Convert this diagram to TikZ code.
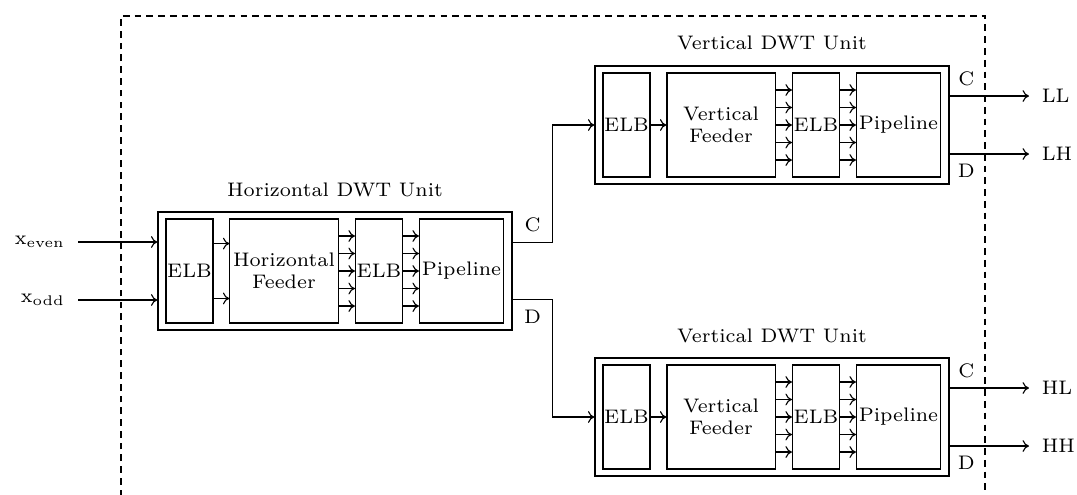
\documentclass[tikz,border=0pt]{standalone}
\usepackage{tikz}
\usetikzlibrary{arrows.meta}

\begin{document}
\begin{tikzpicture}[x=0.357pt,y=0.357pt,yscale=-1,xscale=1,
  font=\scriptsize, >={To[length=2.3pt,width=4.2pt]},
  blk/.style={draw, rectangle, minimum height=37.1pt, inner sep=0pt, align=center},
  unitbox/.style={draw, rectangle, minimum width=126.4pt, minimum height=42.1pt, inner sep=0pt},
  lbl/.style={inner sep=0pt, outer sep=4.6pt},
  frame/.style={dash pattern=on 2.4pt off 1.8pt}]
\useasboundingbox (0,0) rectangle (1077,494);

%Dashed frame
\draw[frame] (121,520) -- (121,16) -- (985,16) -- (985,520);

%Horizontal DWT unit
\node[unitbox] (hunit) at (335,271) {};
\node[blk, minimum width=16.8pt] (helb) at (189.5,271) {ELB};
\node[blk, minimum width=38.6pt] (hfeed) at (284,271) {Horizontal\\Feeder};
\node[blk, minimum width=16.8pt] (helbb) at (379,271) {ELB};
\node[blk, minimum width=30pt] (hpipe) at (461.5,271) {Pipeline};
\node (htitle) at (335,190) {Horizontal DWT Unit};
\foreach \d in {9.8,-9.8} \draw[->] ([yshift=\d pt]helb.east) -- ([yshift=\d pt]hfeed.west);
\foreach \d in {12.5,6.25,0,-6.25,-12.5} {
  \draw[->] ([yshift=\d pt]hfeed.east) -- ([yshift=\d pt]helbb.west);
  \draw[->] ([yshift=\d pt]helbb.east) -- ([yshift=\d pt]hpipe.west);
}

%Vertical DWT unit (top)
\node[unitbox] (vaunit) at (772,125) {};
\node[blk, minimum width=16.8pt] (vaelb) at (626.5,125) {ELB};
\node[blk, minimum width=38.6pt] (vafeed) at (721,125) {Vertical\\Feeder};
\node[blk, minimum width=16.8pt] (vaelbb) at (816,125) {ELB};
\node[blk, minimum width=30pt] (vapipe) at (898.5,125) {Pipeline};
\node (vatitle) at (772,43) {Vertical DWT Unit};
\draw[->] (vaelb) -- (vafeed);
\foreach \d in {12.5,6.25,0,-6.25,-12.5} {
  \draw[->] ([yshift=\d pt]vafeed.east) -- ([yshift=\d pt]vaelbb.west);
  \draw[->] ([yshift=\d pt]vaelbb.east) -- ([yshift=\d pt]vapipe.west);
}

%Vertical DWT unit (bottom)
\node[unitbox] (vbunit) at (772,417) {};
\node[blk, minimum width=16.8pt] (vbelb) at (626.5,417) {ELB};
\node[blk, minimum width=38.6pt] (vbfeed) at (721,417) {Vertical\\Feeder};
\node[blk, minimum width=16.8pt] (vbelbb) at (816,417) {ELB};
\node[blk, minimum width=30pt] (vbpipe) at (898.5,417) {Pipeline};
\node (vbtitle) at (772,336) {Vertical DWT Unit};
\draw[->] (vbelb) -- (vbfeed);
\foreach \d in {12.5,6.25,0,-6.25,-12.5} {
  \draw[->] ([yshift=\d pt]vbfeed.east) -- ([yshift=\d pt]vbelbb.west);
  \draw[->] ([yshift=\d pt]vbelbb.east) -- ([yshift=\d pt]vbpipe.west);
}

%Inputs
\node[lbl, anchor=east] (xeven) at (78,242) {x$_{\mathrm{even}}$};
\node[lbl, anchor=east] (xodd) at (78,300) {x$_{\mathrm{odd}}$};
\draw[->] (xeven.east) -- (xeven.east -| hunit.west);
\draw[->] (xodd.east) -- (xodd.east -| hunit.west);

%Horizontal unit to vertical units
\draw[->] ([yshift=-10.3pt]hunit.east) -- node[above]{C} ++(40,0) |- (vaunit.west);
\draw[->] ([yshift=10.3pt]hunit.east) -- node[below]{D} ++(40,0) |- (vbunit.west);

%Outputs
\node[lbl, anchor=west] (ll) at (1029,96) {LL};
\node[lbl, anchor=west] (lh) at (1029,154) {LH};
\node[lbl, anchor=west] (hl) at (1029,388) {HL};
\node[lbl, anchor=west] (hh) at (1029,446) {HH};
\draw[->] (vaunit.east |- ll.west) -- node[above, pos=0.21]{C} (ll.west);
\draw[->] (vaunit.east |- lh.west) -- node[below, pos=0.21]{D} (lh.west);
\draw[->] (vbunit.east |- hl.west) -- node[above, pos=0.21]{C} (hl.west);
\draw[->] (vbunit.east |- hh.west) -- node[below, pos=0.21]{D} (hh.west);

\end{tikzpicture}
\end{document}
